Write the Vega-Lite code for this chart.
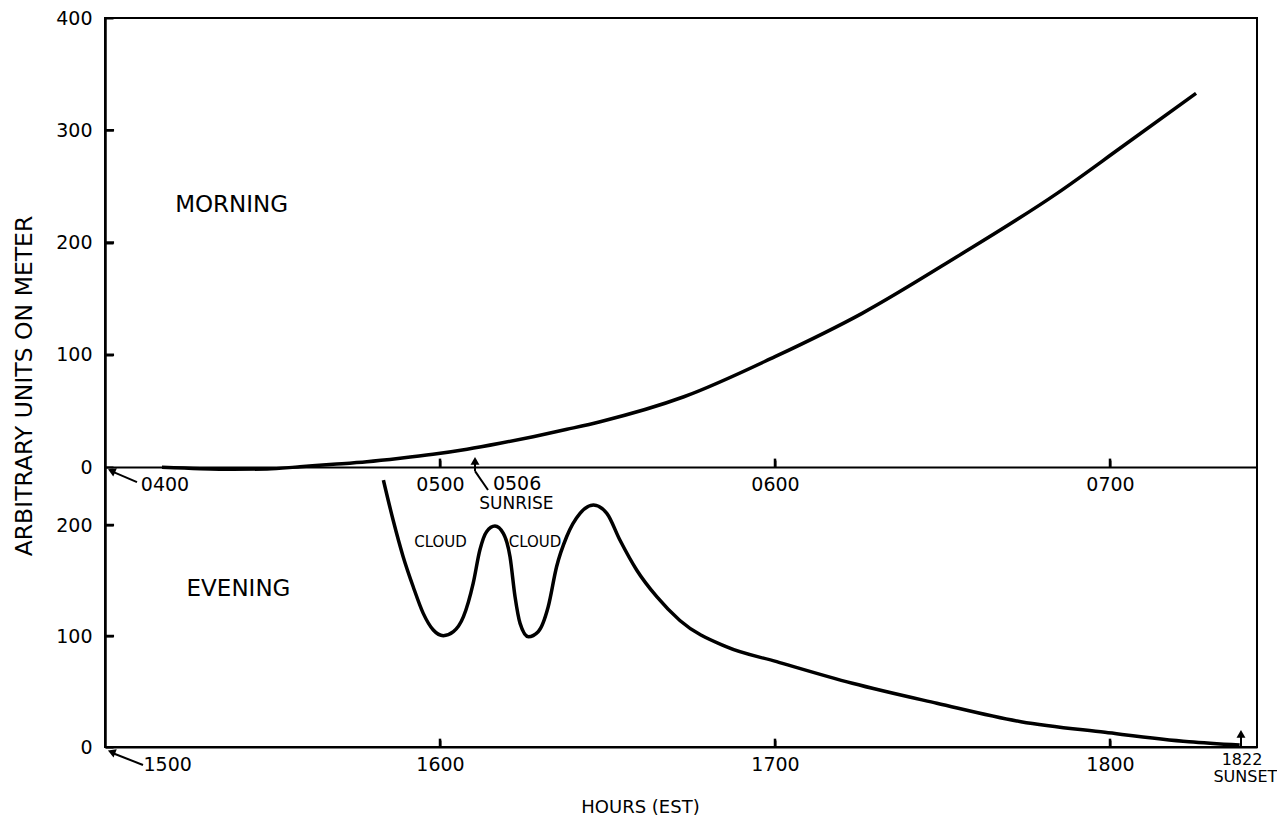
{
  "$schema": "https://vega.github.io/schema/vega-lite/v6.json",
  "width": 1152,
  "height": 729,
  "autosize": "none",
  "padding": {"left": 105, "top": 18, "right": 20, "bottom": 74},
  "background": "white",
  "config": {
    "view": {"stroke": "black", "strokeWidth": 2},
    "font": "DejaVu Sans",
    "axis": {
      "domainColor": "black", "domainWidth": 2, "tickColor": "black", "tickWidth": 2, "tickOpacity": 1,
      "labelColor": "black", "labelFont": "DejaVu Sans", "labelFontSize": 19,
      "titleColor": "black", "titleFont": "DejaVu Sans", "titleFontWeight": "normal",
      "grid": false, "zindex": 1
    }
  },
  "datasets": {
    "morning": [
      {"t": 4.170, "v": -0.3}, {"t": 4.284, "v": -1.5}, {"t": 4.382, "v": -2.0}, {"t": 4.484, "v": -1.8},
      {"t": 4.582, "v": 0.3}, {"t": 4.681, "v": 2.4}, {"t": 4.782, "v": 4.7}, {"t": 4.881, "v": 7.8},
      {"t": 4.979, "v": 11.3}, {"t": 5.081, "v": 15.8}, {"t": 5.179, "v": 21.1}, {"t": 5.278, "v": 27.0},
      {"t": 5.379, "v": 33.6}, {"t": 5.478, "v": 40.4}, {"t": 5.728, "v": 62.6}, {"t": 6.000, "v": 98.3},
      {"t": 6.260, "v": 136.9}, {"t": 6.543, "v": 187.3}, {"t": 6.842, "v": 243.8}, {"t": 7.036, "v": 285.3},
      {"t": 7.257, "v": 332.9}
    ],
    "evening": [
      {"t": 15.831, "v": 240.5}, {"t": 15.860, "v": 204.5}, {"t": 15.890, "v": 171.5}, {"t": 15.920, "v": 144.4},
      {"t": 15.950, "v": 120.4}, {"t": 15.980, "v": 105.4}, {"t": 16.010, "v": 100.3}, {"t": 16.040, "v": 103.9},
      {"t": 16.070, "v": 117.4}, {"t": 16.099, "v": 147.4}, {"t": 16.119, "v": 177.5}, {"t": 16.139, "v": 194.0},
      {"t": 16.164, "v": 199.1}, {"t": 16.189, "v": 192.5}, {"t": 16.209, "v": 171.4}, {"t": 16.224, "v": 135.4},
      {"t": 16.239, "v": 111.4}, {"t": 16.264, "v": 99.4}, {"t": 16.293, "v": 103.9}, {"t": 16.323, "v": 126.4},
      {"t": 16.348, "v": 162.4}, {"t": 16.378, "v": 189.4}, {"t": 16.418, "v": 210.5}, {"t": 16.458, "v": 218.0},
      {"t": 16.498, "v": 210.5}, {"t": 16.537, "v": 186.5}, {"t": 16.587, "v": 159.5}, {"t": 16.647, "v": 135.4},
      {"t": 16.716, "v": 114.0}, {"t": 16.854, "v": 90.4}, {"t": 17.005, "v": 76.9}, {"t": 17.231, "v": 57.4},
      {"t": 17.483, "v": 39.4}, {"t": 17.734, "v": 22.8}, {"t": 17.985, "v": 13.2}, {"t": 18.236, "v": 4.8},
      {"t": 18.387, "v": 1.8}
    ],
    "top_labels": [
      {"t": 4.179, "v": -16.0, "label": "0400"},
      {"t": 5.230, "v": -14.8, "label": "0506"}
    ],
    "top_notes": [{"t": 5.228, "v": -33.2, "label": "SUNRISE"}],
    "top_title": [{"t": 4.378, "v": 233.4, "label": "MORNING"}],
    "top_rules": [
      {"t": 4.0955, "v": -13.4, "t2": 4.024, "v2": -4.3},
      {"t": 5.1433, "v": -20.5, "t2": 5.1045, "v2": -3.6},
      {"t": 5.1045, "v": -3.6, "t2": 5.1045, "v2": 3.0}
    ],
    "top_ticks": [
      {"t": 5, "v": 0, "t2": 5, "v2": 7.5},
      {"t": 6, "v": 0, "t2": 6, "v2": 7.5},
      {"t": 7, "v": 0, "t2": 7, "v2": 7.5},
      {"t": 4, "v": 100, "t2": 4.027, "v2": 100},
      {"t": 4, "v": 200, "t2": 4.027, "v2": 200},
      {"t": 4, "v": 300, "t2": 4.027, "v2": 300}
    ],
    "top_head_diag": [{"t": 4.0195, "v": -3.3}],
    "top_head_up": [{"t": 5.1045, "v": 5.5}],
    "bot_labels": [
      {"t": 15.187, "v": -16.2, "label": "1500"}
    ],
    "bot_sunset_time": [{"t": 18.394, "v": -11.5, "label": "1822"}],
    "bot_notes": [{"t": 18.404, "v": -27.0, "label": "SUNSET"}],
    "bot_title": [{"t": 15.3985, "v": 142.3, "label": "EVENING"}],
    "bot_cloud": [
      {"t": 16.0015, "v": 184.7, "label": "CLOUD"},
      {"t": 16.2836, "v": 184.7, "label": "CLOUD"}
    ],
    "bot_rules": [
      {"t": 15.1134, "v": -16.2, "t2": 15.024, "v2": -5.6},
      {"t": 18.391, "v": 0.9, "t2": 18.391, "v2": 9.0}
    ],
    "bot_ticks": [
      {"t": 16, "v": 0, "t2": 16, "v2": 7.5},
      {"t": 17, "v": 0, "t2": 17, "v2": 7.5},
      {"t": 18, "v": 0, "t2": 18, "v2": 7.5},
      {"t": 15, "v": 100, "t2": 15.027, "v2": 100},
      {"t": 15, "v": 200, "t2": 15.027, "v2": 200}
    ],
    "bot_head_diag": [{"t": 15.0195, "v": -4.5}],
    "bot_head_up": [{"t": 18.391, "v": 11.8}]
  },
  "layer": [
    {
      "layer": [
        {
          "data": {"name": "morning"},
          "mark": {"type": "line", "color": "black", "strokeWidth": 3.5, "interpolate": "monotone"},
          "encoding": {
            "x": {"field": "t", "type": "quantitative",
              "scale": {"domain": [4, 7.4388], "nice": false, "zero": false},
              "axis": {"orient": "bottom", "offset": -280, "values": [5, 6, 7],
                "labelExpr": "'0' + datum.value + '00'", "tickSize": -7, "labelPadding": 15, "title": null}},
            "y": {"field": "v", "type": "quantitative",
              "scale": {"domain": [-249.4, 400], "nice": false, "zero": false},
              "axis": {"orient": "left", "values": [0, 100, 200, 300, 400], "tickSize": -8, "labelPadding": 21,
                "title": "ARBITRARY UNITS ON METER", "titleFontSize": 23.5, "titleX": -81, "titleY": 367.5,
                "titleAngle": 270, "titleBaseline": "middle", "titleAlign": "center"}}
          }
        },
        {
          "data": {"name": "top_labels"},
          "mark": {"type": "text", "fontSize": 19, "font": "DejaVu Sans", "color": "black", "baseline": "middle", "align": "center"},
          "encoding": {
            "x": {"field": "t", "type": "quantitative", "scale": {"domain": [4, 7.4388], "nice": false, "zero": false}},
            "y": {"field": "v", "type": "quantitative", "scale": {"domain": [-249.4, 400], "nice": false, "zero": false}},
            "text": {"field": "label"}
          }
        },
        {
          "data": {"name": "top_notes"},
          "mark": {"type": "text", "fontSize": 17, "font": "DejaVu Sans", "color": "black", "baseline": "middle", "align": "center"},
          "encoding": {
            "x": {"field": "t", "type": "quantitative", "scale": {"domain": [4, 7.4388], "nice": false, "zero": false}},
            "y": {"field": "v", "type": "quantitative", "scale": {"domain": [-249.4, 400], "nice": false, "zero": false}},
            "text": {"field": "label"}
          }
        },
        {
          "data": {"name": "top_title"},
          "mark": {"type": "text", "fontSize": 23, "font": "DejaVu Sans", "color": "black", "baseline": "middle", "align": "center"},
          "encoding": {
            "x": {"field": "t", "type": "quantitative", "scale": {"domain": [4, 7.4388], "nice": false, "zero": false}},
            "y": {"field": "v", "type": "quantitative", "scale": {"domain": [-249.4, 400], "nice": false, "zero": false}},
            "text": {"field": "label"}
          }
        },
        {
          "data": {"name": "top_rules"},
          "mark": {"type": "rule", "color": "black", "strokeWidth": 2},
          "encoding": {
            "x": {"field": "t", "type": "quantitative", "scale": {"domain": [4, 7.4388], "nice": false, "zero": false}},
            "y": {"field": "v", "type": "quantitative", "scale": {"domain": [-249.4, 400], "nice": false, "zero": false}},
            "x2": {"field": "t2"},
            "y2": {"field": "v2"}
          }
        },
        {
          "data": {"name": "top_ticks"},
          "mark": {"type": "rule", "color": "black", "strokeWidth": 2.5},
          "encoding": {
            "x": {"field": "t", "type": "quantitative", "scale": {"domain": [4, 7.4388], "nice": false, "zero": false}},
            "y": {"field": "v", "type": "quantitative", "scale": {"domain": [-249.4, 400], "nice": false, "zero": false}},
            "x2": {"field": "t2"},
            "y2": {"field": "v2"}
          }
        },
        {
          "data": {"name": "top_head_diag"},
          "mark": {"type": "point", "shape": "triangle-up", "filled": true, "color": "black", "opacity": 1, "size": 80, "angle": 294},
          "encoding": {
            "x": {"field": "t", "type": "quantitative", "scale": {"domain": [4, 7.4388], "nice": false, "zero": false}},
            "y": {"field": "v", "type": "quantitative", "scale": {"domain": [-249.4, 400], "nice": false, "zero": false}}
          }
        },
        {
          "data": {"name": "top_head_up"},
          "mark": {"type": "point", "shape": "triangle-up", "filled": true, "color": "black", "opacity": 1, "size": 80, "angle": 0},
          "encoding": {
            "x": {"field": "t", "type": "quantitative", "scale": {"domain": [4, 7.4388], "nice": false, "zero": false}},
            "y": {"field": "v", "type": "quantitative", "scale": {"domain": [-249.4, 400], "nice": false, "zero": false}}
          }
        }
      ]
    },
    {
      "layer": [
        {
          "data": {"name": "evening"},
          "mark": {"type": "line", "color": "black", "strokeWidth": 3.5, "interpolate": "monotone"},
          "encoding": {
            "x": {"field": "t", "type": "quantitative",
              "scale": {"domain": [15, 18.4388], "nice": false, "zero": false},
              "axis": {"orient": "bottom", "values": [16, 17, 18],
                "labelExpr": "datum.value + '00'", "tickSize": -7, "labelPadding": 15,
                "title": "HOURS (EST)", "titleFontSize": 18, "titleX": 535, "titleY": 60,
                "titleBaseline": "middle", "titleAlign": "center", "titleAnchor": null}},
            "y": {"field": "v", "type": "quantitative",
              "scale": {"domain": [0, 656.8], "nice": false, "zero": false},
              "axis": {"orient": "left", "values": [0, 100, 200], "tickSize": -8, "labelPadding": 21, "title": null}}
          }
        },
        {
          "data": {"name": "bot_labels"},
          "mark": {"type": "text", "fontSize": 19, "font": "DejaVu Sans", "color": "black", "baseline": "middle", "align": "center"},
          "encoding": {
            "x": {"field": "t", "type": "quantitative", "scale": {"domain": [15, 18.4388], "nice": false, "zero": false}},
            "y": {"field": "v", "type": "quantitative", "scale": {"domain": [0, 656.8], "nice": false, "zero": false}},
            "text": {"field": "label"}
          }
        },
        {
          "data": {"name": "bot_sunset_time"},
          "mark": {"type": "text", "fontSize": 16, "font": "DejaVu Sans", "color": "black", "baseline": "middle", "align": "center"},
          "encoding": {
            "x": {"field": "t", "type": "quantitative", "scale": {"domain": [15, 18.4388], "nice": false, "zero": false}},
            "y": {"field": "v", "type": "quantitative", "scale": {"domain": [0, 656.8], "nice": false, "zero": false}},
            "text": {"field": "label"}
          }
        },
        {
          "data": {"name": "bot_notes"},
          "mark": {"type": "text", "fontSize": 16, "font": "DejaVu Sans", "color": "black", "baseline": "middle", "align": "center"},
          "encoding": {
            "x": {"field": "t", "type": "quantitative", "scale": {"domain": [15, 18.4388], "nice": false, "zero": false}},
            "y": {"field": "v", "type": "quantitative", "scale": {"domain": [0, 656.8], "nice": false, "zero": false}},
            "text": {"field": "label"}
          }
        },
        {
          "data": {"name": "bot_title"},
          "mark": {"type": "text", "fontSize": 23, "font": "DejaVu Sans", "color": "black", "baseline": "middle", "align": "center"},
          "encoding": {
            "x": {"field": "t", "type": "quantitative", "scale": {"domain": [15, 18.4388], "nice": false, "zero": false}},
            "y": {"field": "v", "type": "quantitative", "scale": {"domain": [0, 656.8], "nice": false, "zero": false}},
            "text": {"field": "label"}
          }
        },
        {
          "data": {"name": "bot_cloud"},
          "mark": {"type": "text", "fontSize": 15, "font": "DejaVu Sans", "color": "black", "baseline": "middle", "align": "center"},
          "encoding": {
            "x": {"field": "t", "type": "quantitative", "scale": {"domain": [15, 18.4388], "nice": false, "zero": false}},
            "y": {"field": "v", "type": "quantitative", "scale": {"domain": [0, 656.8], "nice": false, "zero": false}},
            "text": {"field": "label"}
          }
        },
        {
          "data": {"name": "bot_rules"},
          "mark": {"type": "rule", "color": "black", "strokeWidth": 2},
          "encoding": {
            "x": {"field": "t", "type": "quantitative", "scale": {"domain": [15, 18.4388], "nice": false, "zero": false}},
            "y": {"field": "v", "type": "quantitative", "scale": {"domain": [0, 656.8], "nice": false, "zero": false}},
            "x2": {"field": "t2"},
            "y2": {"field": "v2"}
          }
        },
        {
          "data": {"name": "bot_ticks"},
          "mark": {"type": "rule", "color": "black", "strokeWidth": 2.5},
          "encoding": {
            "x": {"field": "t", "type": "quantitative", "scale": {"domain": [15, 18.4388], "nice": false, "zero": false}},
            "y": {"field": "v", "type": "quantitative", "scale": {"domain": [0, 656.8], "nice": false, "zero": false}},
            "x2": {"field": "t2"},
            "y2": {"field": "v2"}
          }
        },
        {
          "data": {"name": "bot_head_diag"},
          "mark": {"type": "point", "shape": "triangle-up", "filled": true, "color": "black", "opacity": 1, "size": 80, "angle": 291},
          "encoding": {
            "x": {"field": "t", "type": "quantitative", "scale": {"domain": [15, 18.4388], "nice": false, "zero": false}},
            "y": {"field": "v", "type": "quantitative", "scale": {"domain": [0, 656.8], "nice": false, "zero": false}}
          }
        },
        {
          "data": {"name": "bot_head_up"},
          "mark": {"type": "point", "shape": "triangle-up", "filled": true, "color": "black", "opacity": 1, "size": 80, "angle": 0},
          "encoding": {
            "x": {"field": "t", "type": "quantitative", "scale": {"domain": [15, 18.4388], "nice": false, "zero": false}},
            "y": {"field": "v", "type": "quantitative", "scale": {"domain": [0, 656.8], "nice": false, "zero": false}}
          }
        }
      ]
    }
  ],
  "resolve": {"scale": {"x": "independent", "y": "independent"}, "axis": {"x": "independent", "y": "independent"}}
}
